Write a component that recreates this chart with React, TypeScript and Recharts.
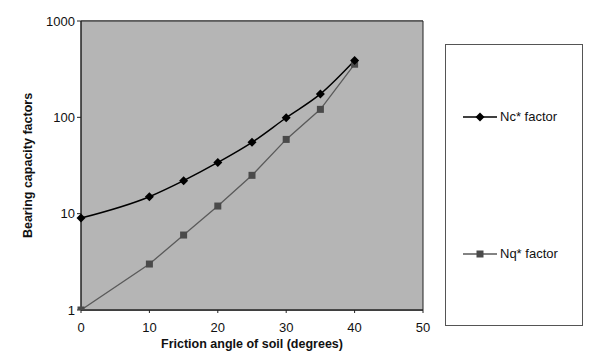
import { LineChart, Line, XAxis, YAxis, CartesianGrid, ReferenceArea } from 'recharts'

const angles = [0, 10, 15, 20, 25, 30, 35, 40]
const ncFactor = [9, 15, 22, 34, 55, 99, 175, 390]
const nqFactor = [1, 3, 6, 12, 25, 59, 121, 356]
const xTicks = [0, 10, 20, 30, 40, 50]
const yTicks = [1, 10, 100, 1000]

const data = angles.map((a, i) => ({ angle: a, nc: ncFactor[i], nq: nqFactor[i] }))

const FONT = '"Liberation Sans", Arial, sans-serif'
const NQ_COLOR = '#5a5a5a'

function Diamond({ cx, cy }: any) {
  if (cx == null || cy == null) return null
  const r = 4.5
  return <polygon points={`${cx},${cy - r} ${cx + r},${cy} ${cx},${cy + r} ${cx - r},${cy}`} fill="#000" />
}

function Square({ cx, cy }: any) {
  if (cx == null || cy == null) return null
  const s = 3.5
  return <rect x={cx - s} y={cy - s} width={s * 2} height={s * 2} fill="#4a4a4a" />
}

function LegendBox() {
  return (
    <div
      style={{
        position: 'absolute',
        left: 445,
        top: 44,
        width: 136,
        height: 280,
        border: '1px solid #555',
        background: '#fff',
        fontFamily: FONT,
        fontSize: 13,
        color: '#111',
      }}
    >
      <div style={{ position: 'absolute', left: 17, top: 64, display: 'flex', alignItems: 'center' }}>
        <svg width={34} height={10}>
          <line x1={0} y1={5} x2={34} y2={5} stroke="#000" strokeWidth={1.5} />
          <polygon points="17,0.5 21.5,5 17,9.5 12.5,5" fill="#000" />
        </svg>
        <span style={{ marginLeft: 3 }}>Nc* factor</span>
      </div>
      <div style={{ position: 'absolute', left: 17, top: 201, display: 'flex', alignItems: 'center' }}>
        <svg width={34} height={10}>
          <line x1={0} y1={5} x2={34} y2={5} stroke={NQ_COLOR} strokeWidth={1.5} />
          <rect x={13.5} y={1.5} width={7} height={7} fill="#4a4a4a" />
        </svg>
        <span style={{ marginLeft: 3 }}>Nq* factor</span>
      </div>
    </div>
  )
}

export default function App() {
  return (
    <div style={{ position: 'absolute', left: 0, top: 0, width: 596, height: 362, background: '#fff' }}>
      <LineChart width={596} height={362} data={data} margin={{ top: 21, right: 173, bottom: 22, left: 0 }}>
        <ReferenceArea x1={0} x2={50} y1={1} y2={1000} fill="#b5b5b5" fillOpacity={1} stroke="#222" strokeWidth={1} ifOverflow="visible" />
        <CartesianGrid vertical={false} stroke="#333" strokeWidth={1} />
        <XAxis
          dataKey="angle"
          type="number"
          domain={[0, 50]}
          ticks={xTicks}
          height={30}
          tickSize={3}
          tickMargin={10}
          stroke="#222"
          tick={{ fontFamily: FONT, fontSize: 13, fill: '#111' }}
          label={{ value: 'Friction angle of soil (degrees)', position: 'insideBottom', offset: -8, style: { fontFamily: FONT, fontSize: 12.5, fontWeight: 'bold', fill: '#111' } }}
        />
        <YAxis
          scale="log"
          domain={[1, 1000]}
          ticks={yTicks}
          allowDataOverflow
          width={81}
          tickSize={4}
          stroke="#222"
          tick={{ fontFamily: FONT, fontSize: 13, fill: '#111' }}
          label={{ value: 'Bearing capacity factors', angle: -90, position: 'insideLeft', offset: 28, style: { fontFamily: FONT, fontSize: 12.5, fontWeight: 'bold', fill: '#111', textAnchor: 'middle' } }}
        />
        <Line type="linear" dataKey="nq" stroke={NQ_COLOR} strokeWidth={1.3} dot={<Square />} isAnimationActive={false} />
        <Line type="monotone" dataKey="nc" stroke="#000" strokeWidth={1.5} dot={<Diamond />} isAnimationActive={false} />
      </LineChart>
      <LegendBox />
    </div>
  )
}
